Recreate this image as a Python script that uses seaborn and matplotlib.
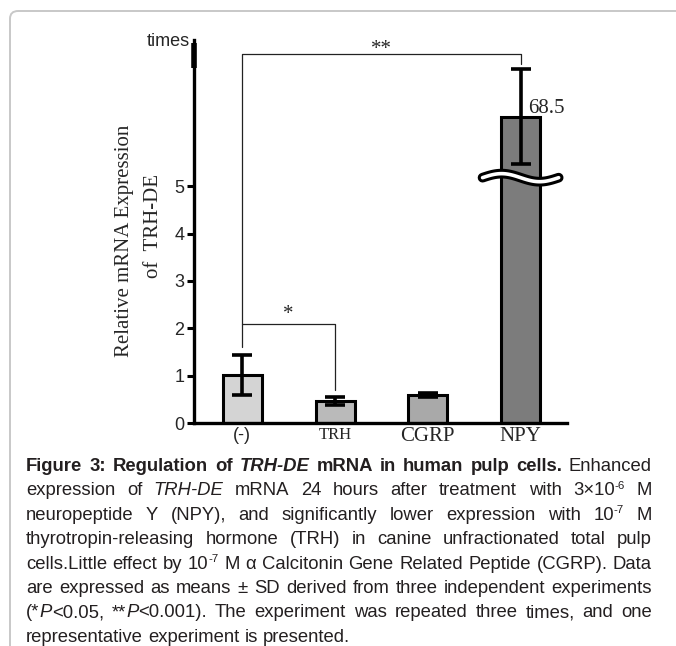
import numpy as np
import matplotlib
matplotlib.use("Agg")
import matplotlib.pyplot as plt
import seaborn as sns
from matplotlib.patches import FancyBboxPatch

# data
groups = ["(-)", "TRH", "CGRP", "NPY"]
means = [1.02, 0.47, 0.59, 68.5]
sds = [0.42, 0.085, 0.04, 30.0]
bar_colors = ["#d4d4d4", "#bababa", "#a9a9a9", "#7c7c7c"]
yticks = [0, 1, 2, 3, 4, 5]
npy_label = "68.5"

caption_lines = [
    [("Figure 3: Regulation of ", "b"), ("TRH-DE", "bi"), (" mRNA in human pulp cells.", "b"), (" Enhanced", "r")],
    [("expression of ", "r"), ("TRH-DE", "i"), (" mRNA 24 hours after treatment with 3\u00d710", "r"), ("-6", "s"), (" M", "r")],
    [("neuropeptide Y (NPY), and significantly lower expression with 10", "r"), ("-7", "s"), (" M", "r")],
    [("thyrotropin-releasing hormone (TRH) in canine unfractionated total pulp", "r")],
    [("cells.Little effect by 10", "r"), ("-7", "s"), (" M \u03b1 Calcitonin Gene Related Peptide (CGRP). Data", "r")],
    [("are expressed as means \u00b1 SD derived from three independent experiments", "r")],
    [("(*", "r"), ("P", "i"), ("<0.05, **", "r"), ("P", "i"), ("<0.001). The experiment was repeated three times, and one", "r")],
    [("representative experiment is presented.", "r")],
]

# broken y scale: linear up to B0, squeezed gap, then compressed upper part
B0, GAP, L, K = 5.4, 0.02, 37.0, 1 / 30.0


def fwd(y):
    y = np.asarray(y, float)
    mid = B0 + (y - B0) / (L - B0) * GAP
    hi = B0 + GAP + (y - L) * K
    return np.where(y <= B0, y, np.where(y < L, mid, hi))


def inv(v):
    v = np.asarray(v, float)
    mid = B0 + (v - B0) / GAP * (L - B0)
    hi = L + (v - B0 - GAP) / K
    return np.where(v <= B0, v, np.where(v < B0 + GAP, mid, hi))


W, H = 676, 646
sns.set_style("ticks")
plt.rcParams["font.family"] = ["Liberation Sans", "DejaVu Sans"]

fig = plt.figure(figsize=(W / 100, H / 100), dpi=100)
ax = fig.add_axes([194 / W, 1 - 423 / H, 373 / W, 383 / H])

sns.barplot(x=groups, y=means, hue=groups, palette=bar_colors, legend=False,
            width=0.42, edgecolor="black", linewidth=2.2, errorbar=None, ax=ax)
ax.errorbar(range(len(groups)), means, yerr=sds, fmt="none", ecolor="black",
            elinewidth=2.6, capsize=7, capthick=2.6, zorder=5)

ax.set_yscale("function", functions=(fwd, inv))
ax.set_ylim(0, 117)
ax.set_xlim(-0.52, 3.5)
ax.set_yticks(yticks)
ax.set_yticklabels([str(t) for t in yticks], fontsize=13)
ax.minorticks_off()
ax.tick_params(axis="y", length=5, width=2.2, pad=2, color="black")
ax.tick_params(axis="x", length=0, pad=3)
ax.set_xlabel("")
ax.set_ylabel("")
sns.despine(ax=ax)
for s in ("left", "bottom"):
    ax.spines[s].set_linewidth(2.4)
    ax.spines[s].set_color("black")
ax.plot([0, 0], [0.927, 0.992], transform=ax.transAxes, color="black",
        lw=4, clip_on=False, solid_capstyle="butt")

xfonts = [("Liberation Sans", 13), ("Liberation Serif", 12),
          ("Liberation Serif", 15), ("Liberation Serif", 15)]
for lab, (fam, sz) in zip(ax.get_xticklabels(), xfonts):
    lab.set_fontfamily(fam)
    lab.set_fontsize(sz)

# axis break wave over the NPY bar
u = np.linspace(0, 1, 60)
wx = 3 + (u - 0.5) * 0.82
wy = 5.18 + 0.085 * np.sin(2 * np.pi * u)
ax.plot(wx, wy, color="black", lw=7, solid_capstyle="round", zorder=6, clip_on=False)
ax.plot(wx, wy, color="white", lw=2.6, solid_capstyle="round", zorder=7, clip_on=False)

# significance brackets
ax.plot([0, 0, 3, 3], [1.6, 108.1, 108.1, 101.8], color="#222222", lw=0.9, zorder=4)
ax.text(1.5, 111.0, "**", ha="center", va="center", fontsize=15, family="Liberation Serif")
ax.plot([0, 1, 1], [2.1, 2.1, 0.7], color="#222222", lw=0.9, zorder=4)
ax.text(0.5, 2.3, "*", ha="center", va="center", fontsize=15, family="Liberation Serif")
ax.text(3.08, 73.9, npy_label, ha="left", va="center", fontsize=15, family="Liberation Serif")

fig.text(190 / W, 1 - 42 / H, "times", ha="right", va="center", fontsize=13)

# y label, two lines
fig.text(125 / W, 1 - 241 / H, "Relative mRNA Expression", rotation=90, ha="center",
         va="center", fontsize=15, family="Liberation Serif")
fig.text(153 / W, 1 - 226 / H, "of  TRH-DE", rotation=90, ha="center",
         va="center", fontsize=15, family="Liberation Serif")

# frame
frame = FancyBboxPatch((10 / W, -0.1), 1.2, (1 - 11 / H) + 0.1,
                       boxstyle="round,pad=0,rounding_size=0.012",
                       transform=fig.transFigure, fill=False, ec="#c8c8c8", lw=1.4)
fig.add_artist(frame)

# justified caption
renderer = fig.canvas.get_renderer()
left, right = 26, 652
styles = {
    "r": dict(weight="normal", style="normal"),
    "b": dict(weight="bold", style="normal"),
    "bi": dict(weight="bold", style="italic"),
    "i": dict(weight="normal", style="italic"),
    "s": dict(weight="normal", style="normal"),
}


def split_words(runs):
    words = [[]]
    for txt, st in runs:
        for pi, p in enumerate(txt.split(" ")):
            if pi > 0:
                words.append([])
            if p:
                words[-1].append((p, st))
    return [w for w in words if w]


def make_line(runs, fs):
    placed, widths = [], []
    for w in split_words(runs):
        ww = 0
        items = []
        for p, st in w:
            size = fs * 0.62 if st == "s" else fs
            t = fig.text(0, 0, p, fontsize=size, color="#231f20", va="baseline",
                         ha="left", **styles[st])
            items.append((t, ww, st))
            ww += t.get_window_extent(renderer).width
        placed.append(items)
        widths.append(ww)
    return placed, widths


# pick the largest size at which every justified line still fits
probe = 12.0
space_em = 0.278
need = []
for runs in caption_lines[:-1]:
    placed, widths = make_line(runs, probe)
    need.append(sum(widths) + (len(widths) - 1) * space_em * probe * 100 / 72)
    for items in placed:
        for t, _, _ in items:
            t.remove()
CAP_FS = probe * (right - left) / max(need) * 0.995

for li, runs in enumerate(caption_lines):
    base = 471 + li * 24.4
    placed, widths = make_line(runs, CAP_FS)
    if li < len(caption_lines) - 1:
        gap = (right - left - sum(widths)) / (len(widths) - 1)
    else:
        gap = space_em * CAP_FS * 100 / 72
    x = left
    for items, ww in zip(placed, widths):
        for t, off, st in items:
            yy = base - 0.5 * CAP_FS if st == "s" else base
            t.set_position(((x + off) / W, 1 - yy / H))
        x += ww + gap

fig.savefig("out.png", dpi=100)
